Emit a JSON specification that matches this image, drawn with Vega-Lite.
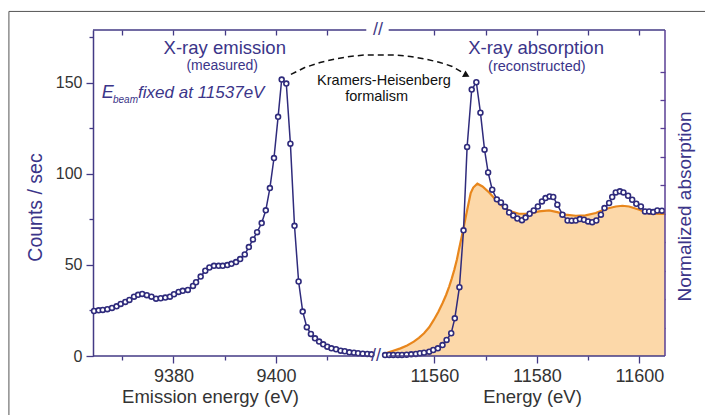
{
  "$schema": "https://vega.github.io/schema/vega-lite/v6.json",
  "width": 572,
  "height": 326,
  "autosize": {"type": "none"},
  "padding": {"left": 93, "top": 30, "right": 40, "bottom": 59},
  "config": {"font": "Liberation Sans", "view": {"stroke": null}, "axis": {"grid": false}},
  "datasets": {
    "emission": [
      {"e":9364.5,"c":24.7},{"e":9365.4,"c":25.1},{"e":9366.2,"c":25.3},{"e":9367.1,"c":25.7},{"e":9368.0,"c":26.4},{"e":9368.9,"c":27.3},{"e":9369.7,"c":28.6},{"e":9370.6,"c":29.7},{"e":9371.4,"c":30.8},{"e":9372.3,"c":32.6},{"e":9373.1,"c":33.6},{"e":9373.9,"c":34.1},{"e":9374.8,"c":33.4},{"e":9375.7,"c":32.6},{"e":9376.6,"c":31.5},{"e":9377.5,"c":31.7},{"e":9378.4,"c":32.1},{"e":9379.3,"c":32.6},{"e":9380.1,"c":33.9},{"e":9381.0,"c":35.2},{"e":9381.8,"c":35.8},{"e":9382.8,"c":36.3},{"e":9383.8,"c":38.5},{"e":9384.4,"c":40.5},{"e":9385.3,"c":43.6},{"e":9386.2,"c":46.8},{"e":9387.0,"c":48.6},{"e":9387.9,"c":49.5},{"e":9388.8,"c":49.5},{"e":9389.6,"c":49.5},{"e":9390.5,"c":49.9},{"e":9391.3,"c":50.6},{"e":9392.2,"c":51.6},{"e":9393.0,"c":53.2},{"e":9393.9,"c":55.8},{"e":9394.7,"c":59.8},{"e":9395.5,"c":64.0},{"e":9396.3,"c":68.0},{"e":9397.2,"c":73.0},{"e":9398.0,"c":80.0},{"e":9398.8,"c":92.2},{"e":9399.6,"c":108.7},{"e":9400.4,"c":131.3},{"e":9401.1,"c":151.8},{"e":9402.0,"c":149.6},{"e":9402.8,"c":116.6},{"e":9403.6,"c":71.5},{"e":9404.4,"c":40.9},{"e":9405.2,"c":24.4},{"e":9406.0,"c":15.8},{"e":9406.8,"c":12.1},{"e":9407.6,"c":9.7},{"e":9408.4,"c":7.9},{"e":9409.2,"c":6.4},{"e":9410.0,"c":5.1},{"e":9410.8,"c":4.2},{"e":9411.7,"c":3.7},{"e":9412.6,"c":2.9},{"e":9413.4,"c":2.6},{"e":9414.3,"c":2.0},{"e":9415.2,"c":1.8},{"e":9416.0,"c":1.5},{"e":9416.9,"c":1.3},{"e":9417.8,"c":1.1},{"e":9418.6,"c":0.9}
    ],
    "absorption": [
      {"e":11550.4,"c":0.5},{"e":11551.2,"c":0.55},{"e":11552.0,"c":0.55},{"e":11552.9,"c":0.55},{"e":11553.7,"c":0.55},{"e":11554.6,"c":0.7},{"e":11555.5,"c":0.9},{"e":11556.4,"c":1.1},{"e":11557.2,"c":1.5},{"e":11558.0,"c":1.8},{"e":11559.0,"c":2.4},{"e":11559.8,"c":3.3},{"e":11560.7,"c":4.2},{"e":11561.6,"c":6.0},{"e":11562.4,"c":8.8},{"e":11563.3,"c":12.5},{"e":11564.0,"c":20.7},{"e":11564.9,"c":37.8},{"e":11565.7,"c":69.0},{"e":11566.4,"c":114.8},{"e":11567.3,"c":146.3},{"e":11568.2,"c":150.3},{"e":11569.0,"c":133.6},{"e":11569.8,"c":113.3},{"e":11570.5,"c":100.8},{"e":11571.3,"c":91.3},{"e":11572.2,"c":86.0},{"e":11573.0,"c":84.3},{"e":11573.8,"c":82.0},{"e":11574.6,"c":78.8},{"e":11575.4,"c":77.2},{"e":11576.2,"c":75.5},{"e":11577.1,"c":74.6},{"e":11577.8,"c":76.0},{"e":11578.6,"c":78.1},{"e":11579.4,"c":79.9},{"e":11580.2,"c":82.1},{"e":11581.0,"c":84.9},{"e":11581.7,"c":86.7},{"e":11582.5,"c":87.6},{"e":11583.2,"c":87.3},{"e":11584.0,"c":83.1},{"e":11585.0,"c":77.6},{"e":11586.0,"c":74.4},{"e":11586.8,"c":74.3},{"e":11587.6,"c":74.4},{"e":11588.4,"c":75.2},{"e":11589.2,"c":74.8},{"e":11590.0,"c":73.9},{"e":11590.8,"c":73.5},{"e":11591.6,"c":74.4},{"e":11592.5,"c":77.6},{"e":11593.2,"c":81.2},{"e":11594.1,"c":84.0},{"e":11594.7,"c":87.3},{"e":11595.4,"c":89.8},{"e":11596.2,"c":90.4},{"e":11596.9,"c":89.8},{"e":11597.8,"c":88.0},{"e":11598.6,"c":85.8},{"e":11599.4,"c":83.6},{"e":11600.3,"c":82.1},{"e":11601.1,"c":79.4},{"e":11601.9,"c":79.4},{"e":11602.7,"c":79.0},{"e":11603.5,"c":79.9},{"e":11604.4,"c":79.8}
    ],
    "normalized": [
      {"e":11549.9,"c":0.5},{"e":11550.8,"c":1.8},{"e":11552.0,"c":2.9},{"e":11553.4,"c":4.2},{"e":11554.7,"c":5.8},{"e":11556.0,"c":7.9},{"e":11557.0,"c":10.0},{"e":11558.0,"c":12.5},{"e":11559.0,"c":15.8},{"e":11559.9,"c":19.8},{"e":11560.8,"c":24.3},{"e":11561.6,"c":29.0},{"e":11562.3,"c":33.5},{"e":11562.9,"c":38.1},{"e":11563.4,"c":42.5},{"e":11563.9,"c":47.3},{"e":11564.4,"c":52.8},{"e":11564.8,"c":58.3},{"e":11565.5,"c":67.5},{"e":11566.4,"c":80.0},{"e":11567.1,"c":89.5},{"e":11567.6,"c":92.5},{"e":11568.4,"c":94.6},{"e":11569.4,"c":93.1},{"e":11570.7,"c":89.8},{"e":11572.0,"c":85.8},{"e":11573.3,"c":82.1},{"e":11574.9,"c":79.4},{"e":11576.5,"c":78.1},{"e":11578.5,"c":78.1},{"e":11580.4,"c":79.4},{"e":11582.4,"c":79.9},{"e":11584.0,"c":79.0},{"e":11585.6,"c":77.6},{"e":11587.6,"c":77.0},{"e":11589.5,"c":77.2},{"e":11591.5,"c":78.5},{"e":11593.4,"c":80.7},{"e":11595.4,"c":82.1},{"e":11596.7,"c":82.5},{"e":11598.0,"c":82.1},{"e":11600.0,"c":80.3},{"e":11601.9,"c":78.1},{"e":11605.0,"c":78.0}
    ],
    "arrow": [
      {"e":9402.9,"c":154.6},{"e":9405.6,"c":158.4},{"e":9408.6,"c":161.2},{"e":9411.5,"c":163.1},{"e":9414.4,"c":164.5},{"e":9417.3,"c":165.3},{"e":11552.3,"c":165.3},{"e":11555.3,"c":164.5},{"e":11558.2,"c":163.1},{"e":11561.1,"c":161.2},{"e":11563.5,"c":159.0},{"e":11565.4,"c":155.9}
    ]
  },
  "layer": [
    {
      "data": {"values": [{}]},
      "mark": {"type": "rule", "color": "#555555", "strokeWidth": 1},
      "encoding": {
        "x": {"datum": 9347.9, "type": "quantitative", "axis": null, "scale": {"domain": [9364.3, 9419.3, 11549.8, 11605], "range": [0, 282, 289, 572], "nice": false, "zero": false}},
        "y": {"datum": 189.2, "type": "quantitative", "axis": null, "scale": {"domain": [0, 179], "nice": false, "zero": false}},
        "y2": {"datum": -40}
      }
    },
    {
      "data": {"values": [{}]},
      "mark": {"type": "rule", "color": "#555555", "strokeWidth": 1},
      "encoding": {
        "x": {"datum": 9347.9, "type": "quantitative", "axis": null},
        "x2": {"datum": 11620},
        "y": {"datum": 189.2, "type": "quantitative", "axis": null}
      }
    },
    {
      "data": {"name": "normalized"},
      "mark": {"type": "area", "color": "#fcd8a9", "opacity": 1},
      "encoding": {
        "x": {"field": "e", "type": "quantitative", "axis": null},
        "y": {"field": "c", "type": "quantitative", "axis": null}
      }
    },
    {
      "data": {"name": "normalized"},
      "mark": {"type": "line", "color": "#e8861c", "strokeWidth": 2.2},
      "encoding": {
        "x": {"field": "e", "type": "quantitative", "axis": null},
        "y": {"field": "c", "type": "quantitative", "axis": null}
      }
    },
    {
      "data": {"name": "emission"},
      "mark": {"type": "line", "color": "#2f2b7c", "strokeWidth": 1.5},
      "encoding": {
        "x": {"field": "e", "type": "quantitative",
          "axis": {"orient": "bottom", "values": [9380, 9400], "format": "d",
            "domain": false, "tickColor": "#433a85", "tickWidth": 1.3, "tickSize": 7,
            "labelFontSize": 18, "labelColor": "#333333", "labelPadding": 4,
            "title": "Emission energy (eV)", "titleFontSize": 18.5, "titleFontWeight": "normal", "titleColor": "#333333",
            "titleX": 117, "titleY": 46, "titleBaseline": "alphabetic", "titleAlign": "center"}},
        "y": {"field": "c", "type": "quantitative",
          "axis": {"orient": "left", "values": [0, 50, 100, 150],
            "domainColor": "#433a85", "domainWidth": 1.5, "tickColor": "#433a85", "tickWidth": 1.3, "tickSize": 7,
            "labelFontSize": 16, "labelColor": "#333333", "labelPadding": 4,
            "title": "Counts / sec", "titleFontSize": 19.5, "titleFontWeight": "normal", "titleColor": "#3b3589",
            "titleAngle": 270, "titleX": -58, "titleY": 177, "titleBaseline": "middle", "titleAlign": "center"}}
      }
    },
    {
      "data": {"name": "emission"},
      "mark": {"type": "point", "filled": true, "fill": "white", "stroke": "#2f2b7c", "strokeWidth": 1.6, "size": 24, "opacity": 1},
      "encoding": {
        "x": {"field": "e", "type": "quantitative",
          "axis": {"orient": "top", "offset": -5, "values": [9370, 9380, 9390, 9400, 9410, 11560, 11570, 11580, 11590, 11600],
            "labels": false, "title": null, "domain": false, "tickColor": "#433a85", "tickWidth": 1.3, "tickSize": 5}},
        "y": {"field": "c", "type": "quantitative", "axis": null}
      }
    },
    {
      "data": {"name": "absorption"},
      "mark": {"type": "line", "color": "#2f2b7c", "strokeWidth": 1.5},
      "encoding": {
        "x": {"field": "e", "type": "quantitative",
          "axis": {"orient": "bottom", "values": [11560, 11580, 11600], "format": "d",
            "domain": false, "tickColor": "#433a85", "tickWidth": 1.3, "tickSize": 7,
            "labelFontSize": 18, "labelColor": "#333333", "labelPadding": 4,
            "title": "Energy (eV)", "titleFontSize": 18.5, "titleFontWeight": "normal", "titleColor": "#333333",
            "titleX": 439, "titleY": 46, "titleBaseline": "alphabetic", "titleAlign": "center"}},
        "y": {"field": "c", "type": "quantitative",
          "axis": {"orient": "right", "offset": -5, "values": [15.62, 31.24, 46.86, 62.48, 78.1, 93.72, 109.34, 124.96, 140.58, 156.2],
            "labels": false, "domain": false, "tickColor": "#5a3f95", "tickWidth": 1.3, "tickSize": 5,
            "title": "Normalized absorption", "titleFontSize": 19, "titleFontWeight": "normal", "titleColor": "#3b3589",
            "titleAngle": 270, "titleX": 24, "titleY": 176, "titleBaseline": "middle", "titleAlign": "center"}}
      }
    },
    {
      "data": {"name": "absorption"},
      "mark": {"type": "point", "filled": true, "fill": "white", "stroke": "#2f2b7c", "strokeWidth": 1.6, "size": 24, "opacity": 1},
      "encoding": {
        "x": {"field": "e", "type": "quantitative",
          "axis": {"orient": "bottom", "values": [9370, 9390, 9410, 11570, 11590],
            "labels": false, "title": null, "domain": false, "tickColor": "#433a85", "tickWidth": 1.3, "tickSize": 4}},
        "y": {"field": "c", "type": "quantitative",
          "axis": {"orient": "left", "values": [25, 75, 125, 175],
            "labels": false, "title": null, "domain": false, "tickColor": "#433a85", "tickWidth": 1.3, "tickSize": 4}}
      }
    },
    {
      "data": {"values": [{}]},
      "mark": {"type": "rule", "color": "#433a85", "strokeWidth": 1.5},
      "encoding": {"x": {"datum": 9364.3, "type": "quantitative", "axis": null}, "x2": {"datum": 9418.4}, "y": {"datum": 0, "type": "quantitative", "axis": null}}
    },
    {
      "data": {"values": [{}]},
      "mark": {"type": "rule", "color": "#433a85", "strokeWidth": 1.5},
      "encoding": {"x": {"datum": 11551.1, "type": "quantitative", "axis": null}, "x2": {"datum": 11605}, "y": {"datum": 0, "type": "quantitative", "axis": null}}
    },
    {
      "data": {"values": [{}]},
      "mark": {"type": "rule", "color": "#433a85", "strokeWidth": 1.5},
      "encoding": {"x": {"datum": 9364.3, "type": "quantitative", "axis": null}, "x2": {"datum": 9417.6}, "y": {"datum": 179, "type": "quantitative", "axis": null}}
    },
    {
      "data": {"values": [{}]},
      "mark": {"type": "rule", "color": "#433a85", "strokeWidth": 1.5},
      "encoding": {"x": {"datum": 11551.1, "type": "quantitative", "axis": null}, "x2": {"datum": 11605}, "y": {"datum": 179, "type": "quantitative", "axis": null}}
    },
    {
      "data": {"values": [{}]},
      "mark": {"type": "rule", "color": "#5a3f95", "strokeWidth": 1.5},
      "encoding": {"x": {"datum": 11605, "type": "quantitative", "axis": null}, "y": {"datum": 0, "type": "quantitative", "axis": null}, "y2": {"datum": 179}}
    },
    {
      "data": {"values": [{}]},
      "mark": {"type": "text", "text": "//", "fontSize": 18, "color": "#433a85", "baseline": "middle", "align": "center"},
      "encoding": {"x": {"datum": 9723.6, "type": "quantitative", "axis": null}, "y": {"datum": 0, "type": "quantitative", "axis": null}}
    },
    {
      "data": {"values": [{}]},
      "mark": {"type": "text", "text": "//", "fontSize": 18, "color": "#433a85", "baseline": "middle", "align": "center"},
      "encoding": {"x": {"datum": 10332, "type": "quantitative", "axis": null}, "y": {"datum": 179, "type": "quantitative", "axis": null}}
    },
    {
      "data": {"name": "arrow"},
      "mark": {"type": "line", "color": "#111111", "strokeWidth": 1.5, "strokeDash": [6, 4]},
      "encoding": {
        "x": {"field": "e", "type": "quantitative", "axis": null},
        "y": {"field": "c", "type": "quantitative", "axis": null}
      }
    },
    {
      "data": {"values": [{}]},
      "mark": {"type": "point", "shape": "triangle-up", "filled": true, "color": "#111111", "size": 55, "angle": 118, "opacity": 1},
      "encoding": {"x": {"datum": 11566.3, "type": "quantitative", "axis": null}, "y": {"datum": 154.2, "type": "quantitative", "axis": null}}
    },
    {
      "data": {"values": [{}]},
      "mark": {"type": "text", "text": "X-ray emission", "fontSize": 18.5, "color": "#3b3589", "align": "center", "baseline": "alphabetic"},
      "encoding": {"x": {"datum": 9390.0, "type": "quantitative", "axis": null}, "y": {"datum": 165.8, "type": "quantitative", "axis": null}}
    },
    {
      "data": {"values": [{}]},
      "mark": {"type": "text", "text": "(measured)", "fontSize": 14, "color": "#3b3589", "align": "center", "baseline": "alphabetic"},
      "encoding": {"x": {"datum": 9389.5, "type": "quantitative", "axis": null}, "y": {"datum": 156.9, "type": "quantitative", "axis": null}}
    },
    {
      "data": {"values": [{}]},
      "mark": {"type": "text", "text": "X-ray absorption", "fontSize": 18.5, "color": "#3b3589", "align": "center", "baseline": "alphabetic"},
      "encoding": {"x": {"datum": 11579.85, "type": "quantitative", "axis": null}, "y": {"datum": 165.8, "type": "quantitative", "axis": null}}
    },
    {
      "data": {"values": [{}]},
      "mark": {"type": "text", "text": "(reconstructed)", "fontSize": 14.5, "color": "#3b3589", "align": "center", "baseline": "alphabetic"},
      "encoding": {"x": {"datum": 11580.0, "type": "quantitative", "axis": null}, "y": {"datum": 156.7, "type": "quantitative", "axis": null}}
    },
    {
      "data": {"values": [{}]},
      "mark": {"type": "text", "text": "Kramers-Heisenberg", "fontSize": 14.5, "color": "#111111", "align": "left", "baseline": "alphabetic"},
      "encoding": {"x": {"datum": 9408.0, "type": "quantitative", "axis": null}, "y": {"datum": 148.8, "type": "quantitative", "axis": null}}
    },
    {
      "data": {"values": [{}]},
      "mark": {"type": "text", "text": "formalism", "fontSize": 14.5, "color": "#111111", "align": "left", "baseline": "alphabetic"},
      "encoding": {"x": {"datum": 9413.5, "type": "quantitative", "axis": null}, "y": {"datum": 140.0, "type": "quantitative", "axis": null}}
    },
    {
      "data": {"values": [{}]},
      "mark": {"type": "text", "text": "E", "fontSize": 18, "fontStyle": "italic", "color": "#3b3589", "align": "left", "baseline": "alphabetic"},
      "encoding": {"x": {"datum": 9366.0, "type": "quantitative", "axis": null}, "y": {"datum": 141.9, "type": "quantitative", "axis": null}}
    },
    {
      "data": {"values": [{}]},
      "mark": {"type": "text", "text": "beam", "fontSize": 10, "fontStyle": "italic", "color": "#3b3589", "align": "left", "baseline": "alphabetic"},
      "encoding": {"x": {"datum": 9368.2, "type": "quantitative", "axis": null}, "y": {"datum": 139.0, "type": "quantitative", "axis": null}}
    },
    {
      "data": {"values": [{}]},
      "mark": {"type": "text", "text": "fixed at 11537eV", "fontSize": 17, "fontStyle": "italic", "color": "#3b3589", "align": "left", "baseline": "alphabetic"},
      "encoding": {"x": {"datum": 9373.1, "type": "quantitative", "axis": null}, "y": {"datum": 141.9, "type": "quantitative", "axis": null}}
    }
  ],
  "resolve": {"axis": {"x": "independent", "y": "independent"}}
}
